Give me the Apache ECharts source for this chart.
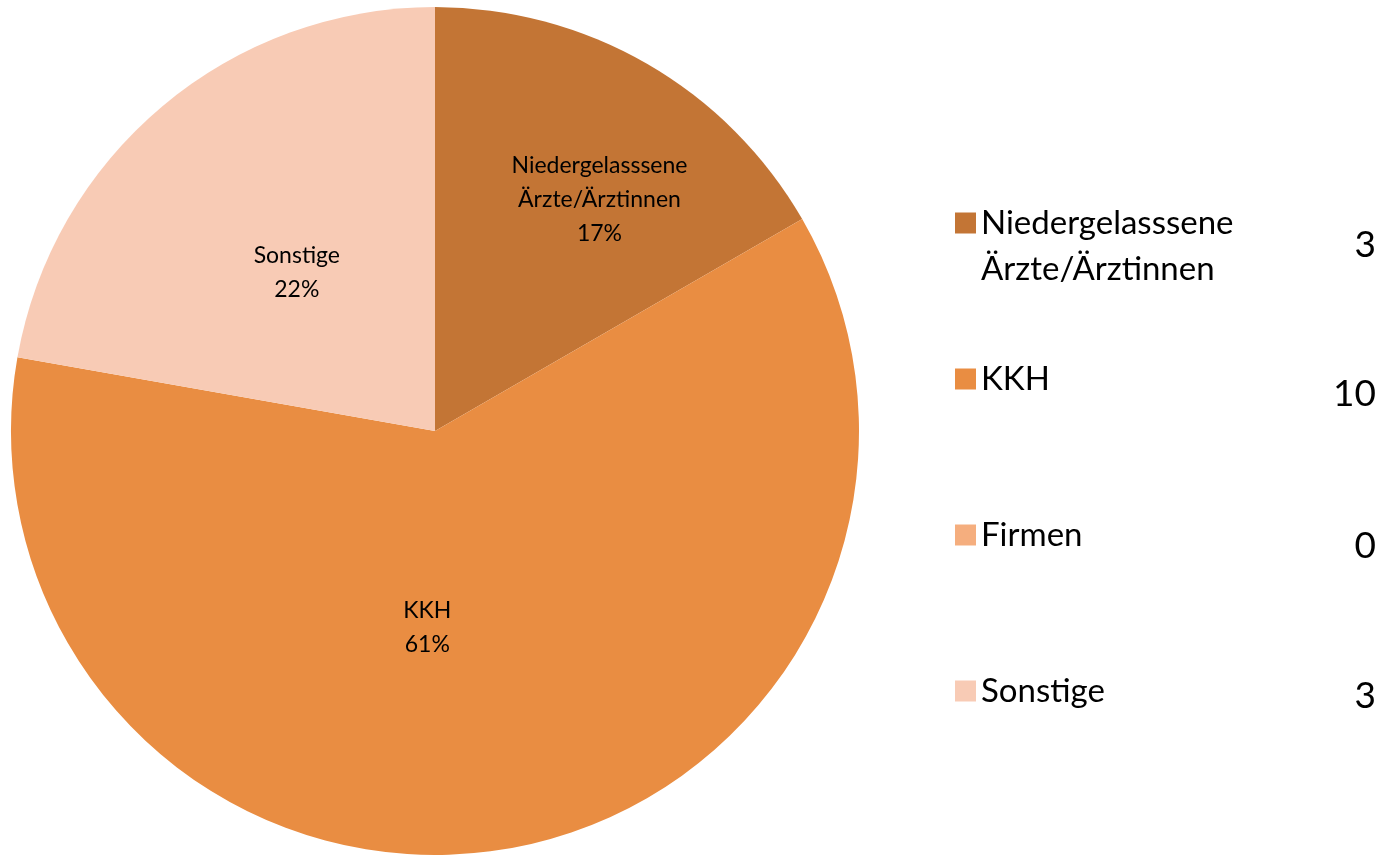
<!DOCTYPE html>
<html>
<head>
<meta charset="utf-8">
<script src="https://cdn.jsdelivr.net/npm/echarts@6/dist/echarts.min.js"></script>
<style>
  html, body { margin: 0; padding: 0; background: #fff; }
  #chart { width: 1394px; height: 855px; }
</style>
</head>
<body>
<div id="chart"></div>
<script>
// data
const categories = ['Niedergelasssene\nÄrzte/Ärztinnen', 'KKH', 'Firmen', 'Sonstige'];
const sliceValues = [3, 11, 0, 4];         // slice sizes (17% / 61% / 0 / 22%)
const tableValues = ['3', '10', '0', '3']; // numbers printed next to the legend
const colors = ['#C37535', '#E98D42', '#F5AE7E', '#F8CBB5'];

// label nudges (px) so the slice labels sit where the original has them
const labelShift = [[57, -45], [-45, -15], [0, 0], [0, 6]];

const font = 'Lato, "Noto Sans", sans-serif';
const legendTops = [149, 351, 507, 663];
const valueTops = [227, 376, 528, 678];

const chart = echarts.init(document.getElementById('chart'));

// one legend per row so each row can sit where it sits in the original
const legends = categories.map((name, i) => ({
  data: [name],
  orient: 'vertical',
  left: 950,
  top: legendTops[i],
  itemWidth: 21,
  itemHeight: 21,
  icon: 'rect',
  itemStyle: { borderWidth: 0 },
  selectedMode: false,
  // blank first line keeps the square level with the first text line
  formatter: n => (n.indexOf('\n') >= 0 ? ' \n' + n : n),
  textStyle: {
    fontFamily: font,
    fontSize: 33,
    color: '#000',
    lineHeight: 46
  }
}));

const valueTexts = tableValues.map((v, i) => ({
  type: 'text',
  right: 18,
  top: valueTops[i],
  style: { text: v, font: '37px ' + font, fill: '#000', textAlign: 'right' }
}));

chart.setOption({
  backgroundColor: '#fff',
  color: colors,
  legend: legends,
  graphic: valueTexts,
  series: [{
    type: 'pie',
    center: [435, 431],
    radius: 424,
    startAngle: 90,
    clockwise: true,
    percentPrecision: 0,
    avoidLabelOverlap: false,
    emphasis: { disabled: true },
    itemStyle: { borderWidth: 0 },
    label: {
      position: 'inside',
      formatter: '{b}\n{d}%',
      fontFamily: font,
      fontSize: 23,
      lineHeight: 34,
      color: '#000'
    },
    labelLine: { show: false },
    labelLayout: function (p) {
      const s = labelShift[p.dataIndex];
      return { dx: s[0], dy: s[1] };
    },
    data: categories.map((name, i) => ({
      name: name,
      value: sliceValues[i],
      label: { show: sliceValues[i] > 0 }
    }))
  }]
});
</script>
</body>
</html>
